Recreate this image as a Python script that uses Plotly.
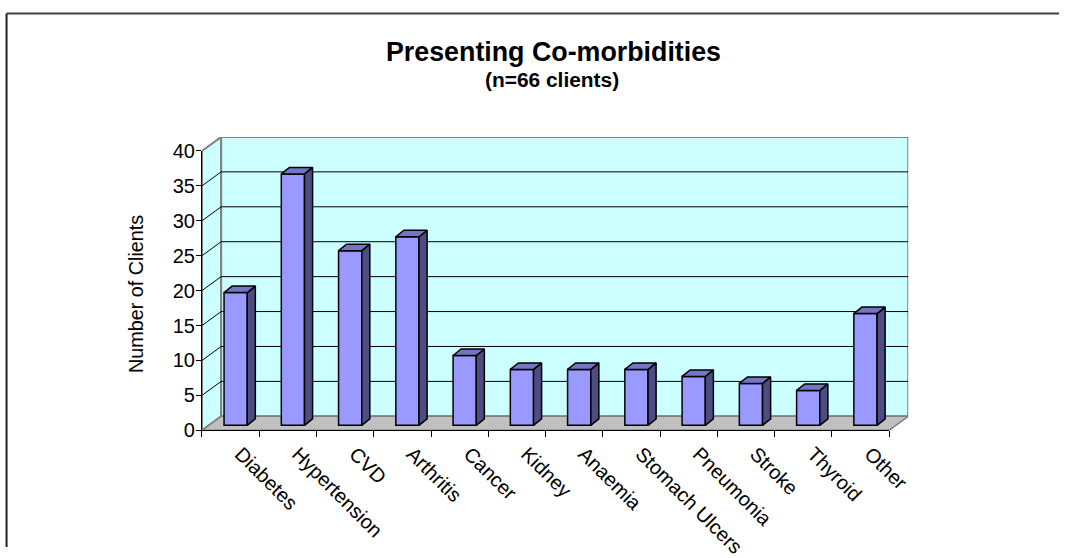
import plotly.graph_objects as go

# ---------------- data ----------------
categories = ["Diabetes", "Hypertension", "CVD", "Arthritis", "Cancer", "Kidney",
              "Anaemia", "Stomach Ulcers", "Pneumonia", "Stroke", "Thyroid", "Other"]
clients = [19, 36, 25, 27, 10, 8, 8, 8, 7, 6, 5, 16]
y_ticks = [0, 5, 10, 15, 20, 25, 30, 35, 40]
title_text = "Presenting Co-morbidities"
subtitle_text = "(n=66 clients)"
y_title = "Number of Clients"

# ---------------- geometry (target pixels in the picture) ----------------
W, H = 1081, 558
# the photographed page comes out slightly scaled; targets are converted back
SX, SY, OX, OY = 0.971, 0.961, 1.5, 10.5

FX0, FX1 = 201.7, 882.7          # front plane x extent
FY0, FY1 = 430.0, 150.5          # front plane y for 0 and 40
YMAX = 40
N = len(categories)
PX_CAT = (FX1 - FX0) / N
PX_UNIT = (FY0 - FY1) / YMAX
WALL_DX_PX, WALL_DY_PX = 19.0, 14.0
DX = WALL_DX_PX / PX_CAT
DY = WALL_DY_PX / PX_UNIT

BAR_SHIFT = 5.0 / PX_CAT
BAR_W = 23.0 / PX_CAT
BAR_BASE = 5.0 / PX_UNIT
BAR_DDX = 8.0 / PX_CAT
BAR_DDY = 6.5 / PX_UNIT

FRONT = "#9999ff"
SIDE = "#4d4d82"
TOP = "#7575c8"
WALL = "#ccffff"
FLOOR = "#c0c0c0"
EDGE = "#808080"
FONT = "Liberation Sans, Arial, sans-serif"


def px_x(d):
    return ((d - OX) / SX) / W


def px_y(d):
    return 1 - ((d - OY) / SY) / H


fig = go.Figure()

x0, x1 = -0.5, N - 0.5

# ---------------- walls (subplot xy) ----------------
fig.add_trace(go.Scatter(
    x=[x0, x0, x0 + DX, x0 + DX, x0], y=[0, YMAX, YMAX + DY, DY, 0],
    mode="lines", fill="toself", fillcolor=WALL, line=dict(color=EDGE, width=2),
    hoverinfo="skip", showlegend=False, xaxis="x", yaxis="y"))
fig.add_trace(go.Scatter(
    x=[x0 + DX, x1 + DX, x1 + DX, x0 + DX, x0 + DX], y=[DY, DY, YMAX + DY, YMAX + DY, DY],
    mode="lines", fill="toself", fillcolor=WALL, line=dict(color=EDGE, width=2),
    hoverinfo="skip", showlegend=False, xaxis="x", yaxis="y"))
fig.add_trace(go.Scatter(
    x=[x0, x1, x1 + DX, x0 + DX, x0], y=[0, 0, DY, DY, 0],
    mode="lines", fill="toself", fillcolor=FLOOR, line=dict(color=EDGE, width=1.5),
    hoverinfo="skip", showlegend=False, xaxis="x", yaxis="y"))
gx, gy = [], []
for v in y_ticks[1:-1]:
    gx += [x0, x0 + DX, x1 + DX, None]
    gy += [v, v + DY, v + DY, None]
fig.add_trace(go.Scatter(
    x=gx, y=gy, mode="lines", line=dict(color="black", width=1),
    hoverinfo="skip", showlegend=False, xaxis="x", yaxis="y"))

# ---------------- bars (subplot x2y2) ----------------
xs = [i + BAR_SHIFT for i in range(N)]
fig.add_trace(go.Bar(
    x=xs, y=clients, base=BAR_BASE, width=BAR_W,
    marker=dict(color=FRONT, line=dict(color="black", width=1.5)),
    hoverinfo="skip", showlegend=False, xaxis="x2", yaxis="y2"))

sx, sy, tx, ty = [], [], [], []
for xc, v in zip(xs, clients):
    l, r = xc - BAR_W / 2, xc + BAR_W / 2
    top = BAR_BASE + v
    sx += [r, r, r + BAR_DDX, r + BAR_DDX, r, None]
    sy += [BAR_BASE, top, top + BAR_DDY, BAR_BASE + BAR_DDY, BAR_BASE, None]
    tx += [l, r, r + BAR_DDX, l + BAR_DDX, l, None]
    ty += [top, top, top + BAR_DDY, top + BAR_DDY, top, None]
fig.add_trace(go.Scatter(
    x=sx, y=sy, mode="lines", fill="toself", fillcolor=SIDE,
    line=dict(color="black", width=1.5), hoverinfo="skip", showlegend=False,
    xaxis="x2", yaxis="y2"))
fig.add_trace(go.Scatter(
    x=tx, y=ty, mode="lines", fill="toself", fillcolor=TOP,
    line=dict(color="black", width=1.5), hoverinfo="skip", showlegend=False,
    xaxis="x2", yaxis="y2"))

fig.update_layout(
    width=W, height=H, autosize=False,
    margin=dict(l=0, r=0, t=0, b=0),
    paper_bgcolor="white", plot_bgcolor="rgba(0,0,0,0)",
    font=dict(family=FONT, color="black", size=19),
    showlegend=False,
    xaxis=dict(domain=[px_x(FX0), px_x(FX1 + WALL_DX_PX)], range=[x0, x1 + DX],
               visible=False, fixedrange=True),
    yaxis=dict(domain=[px_y(FY0), px_y(FY1 - WALL_DY_PX)], range=[0, YMAX + DY],
               visible=False, fixedrange=True),
    xaxis2=dict(domain=[px_x(FX0), px_x(FX1)], range=[x0, x1], anchor="y2",
                tickmode="array", tickvals=list(range(N)), ticktext=categories,
                ticks="", tickangle=45, tickfont=dict(size=20),
                ticklabelshift=10, ticklabelstandoff=3,
                showline=True, linecolor="black", linewidth=1, showgrid=False,
                zeroline=False, fixedrange=True,
                minor=dict(tickmode="array", tickvals=[x0 + k for k in range(N + 1)],
                           ticks="outside", ticklen=6, tickcolor="black", tickwidth=1,
                           showgrid=False)),
    yaxis2=dict(domain=[px_y(FY0), px_y(FY1)], range=[0, YMAX], anchor="x2",
                tickmode="array", tickvals=y_ticks, ticks="outside", ticklen=5,
                tickcolor="black", tickfont=dict(size=20), ticklabelstandoff=-3,
                showline=True, linecolor="black", linewidth=1, showgrid=False,
                zeroline=False, fixedrange=True),
    shapes=[dict(type="line", xref="paper", yref="paper",
                 x0=px_x(8), y0=px_y(13), x1=1, y1=px_y(13),
                 line=dict(color="#404040", width=2)),
            dict(type="line", xref="paper", yref="paper",
                 x0=px_x(8), y0=px_y(13), x1=px_x(8), y1=0,
                 line=dict(color="#202020", width=2))],
    annotations=[
        dict(text="<b>" + title_text + "</b>", xref="paper", yref="paper",
             x=px_x(550), y=px_y(52), showarrow=False, font=dict(size=26.8),
             xanchor="center", yanchor="middle"),
        dict(text="<b>" + subtitle_text + "</b>", xref="paper", yref="paper",
             x=px_x(549), y=px_y(79), showarrow=False, font=dict(size=20.9),
             xanchor="center", yanchor="middle"),
        dict(text=y_title, xref="paper", yref="paper", x=px_x(137), y=px_y(294),
             showarrow=False, textangle=-90, font=dict(size=19.8),
             xanchor="center", yanchor="middle"),
    ],
)

fig.write_html("out.html")
